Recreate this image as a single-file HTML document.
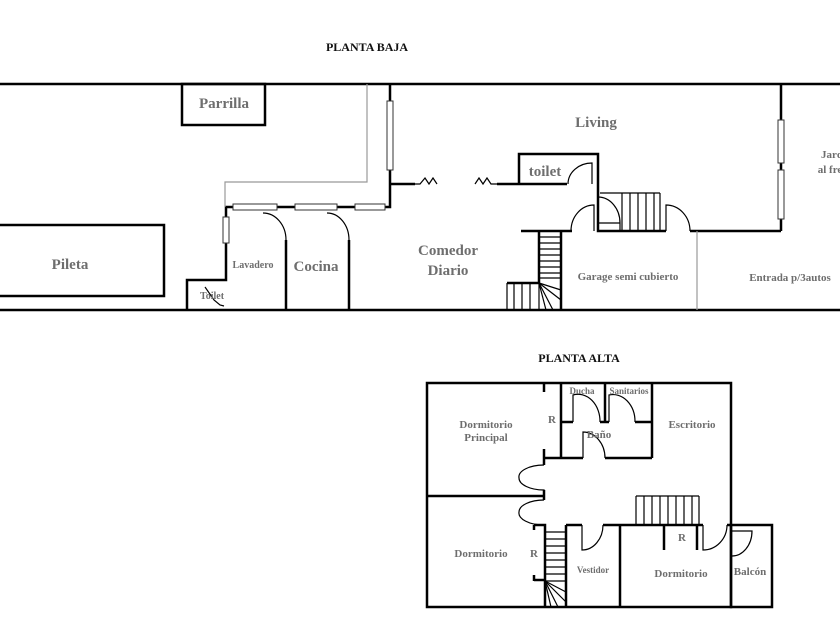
<!DOCTYPE html>
<html><head><meta charset="utf-8"><style>
html,body{margin:0;padding:0;background:#fff;width:840px;height:630px;overflow:hidden}
svg{display:block}
text{font-family:"Liberation Serif",serif;font-weight:bold;fill:#6e6e6e}
</style></head><body>
<svg width="840" height="630" viewBox="0 0 840 630" xmlns="http://www.w3.org/2000/svg">
<g fill="none" stroke="#000" stroke-width="2.5">
<line x1="0" y1="84" x2="840" y2="84"/>
<line x1="0" y1="310" x2="840" y2="310"/>
<rect x="-2" y="225" width="166" height="71"/>
<rect x="182" y="84" width="83" height="41"/>
<polyline points="187,310 187,280 226,280 226,207 390,207 390,84"/>
<line x1="286" y1="240" x2="286" y2="310"/>
<line x1="349" y1="240" x2="349" y2="310"/>
<line x1="390" y1="184" x2="415" y2="184"/>
<line x1="497" y1="184" x2="567" y2="184"/>
<polyline points="519,184 519,154 598,154 598,231 666,231"/>
<line x1="521" y1="231" x2="572" y2="231"/>
<polyline points="539,231 539,283 507,283"/>
<line x1="561" y1="231" x2="561" y2="310"/>
<line x1="690" y1="231" x2="781" y2="231"/>
<line x1="781" y1="84" x2="781" y2="231"/>
<rect x="427" y="383" width="304" height="224"/>
<rect x="731" y="525" width="41" height="82"/>
<line x1="427" y1="496" x2="544" y2="496"/>
<line x1="544" y1="383" x2="544" y2="392"/>
<line x1="544" y1="449" x2="544" y2="465"/>
<line x1="544" y1="490" x2="544" y2="500"/>
<line x1="561" y1="383" x2="561" y2="458"/>
<line x1="544" y1="458" x2="583" y2="458"/>
<line x1="605" y1="458" x2="652" y2="458"/>
<line x1="652" y1="383" x2="652" y2="458"/>
<line x1="605" y1="383" x2="605" y2="422"/>
<line x1="561" y1="422" x2="573" y2="422"/>
<line x1="600" y1="422" x2="609" y2="422"/>
<line x1="635" y1="422" x2="652" y2="422"/>
<polyline points="534,525 545,525 545,607"/>
<line x1="534" y1="525" x2="534" y2="530"/>
<line x1="534" y1="580" x2="545" y2="580"/>
<line x1="534" y1="575" x2="534" y2="581"/>
<line x1="566" y1="525" x2="566" y2="607"/>
<line x1="566" y1="525" x2="582" y2="525"/>
<line x1="603" y1="525" x2="703" y2="525"/>
<line x1="727" y1="525" x2="731" y2="525"/>
<line x1="620" y1="525" x2="620" y2="607"/>
<line x1="664" y1="525" x2="664" y2="550"/>
<line x1="697" y1="525" x2="697" y2="550"/>
</g>
<g fill="none" stroke="#000" stroke-width="1.2">
<path d="M263,213 A23,27 0 0 1 286,240"/>
<path d="M327,213 A22,27 0 0 1 349,240"/>
<path d="M568,184 A24,21 0 0 1 592,163 L592,184"/>
<path d="M571,231 A23,26 0 0 1 594,205 L594,231"/>
<path d="M598,197 A22,26 0 0 1 620,223 L620,231 M598,223 L620,223"/>
<path d="M666,231 L666,205 A24,26 0 0 1 690,231"/>
<path d="M205,287 L214,300 L220,305 L224,306"/>
<line x1="600" y1="193" x2="660" y2="193"/>
<line x1="622" y1="193" x2="622" y2="231"/>
<line x1="630" y1="193" x2="630" y2="231"/>
<line x1="638" y1="193" x2="638" y2="231"/>
<line x1="646" y1="193" x2="646" y2="231"/>
<line x1="654" y1="193" x2="654" y2="231"/>
<line x1="660" y1="193" x2="660" y2="231"/>
<line x1="539" y1="237" x2="561" y2="237"/><line x1="539" y1="243" x2="561" y2="243"/>
<line x1="539" y1="249" x2="561" y2="249"/><line x1="539" y1="255" x2="561" y2="255"/>
<line x1="539" y1="261" x2="561" y2="261"/><line x1="539" y1="267" x2="561" y2="267"/>
<line x1="539" y1="273" x2="561" y2="273"/><line x1="539" y1="278" x2="561" y2="278"/>
<line x1="507" y1="283" x2="507" y2="310"/><line x1="514" y1="283" x2="514" y2="310"/>
<line x1="522" y1="283" x2="522" y2="310"/><line x1="530" y1="283" x2="530" y2="310"/>
<line x1="539" y1="283" x2="539" y2="310"/>
<line x1="539" y1="283" x2="561" y2="290"/><line x1="539" y1="283" x2="561" y2="300"/>
<line x1="539" y1="283" x2="553" y2="310"/><line x1="539" y1="283" x2="546" y2="310"/>
<polyline points="415,184 420,184 425,178 429,184 433,178 437,184"/>
<polyline points="475,184 479,178 483,184 487,178 491,184 497,184"/>
<path d="M544,465 A25,12 0 0 0 519,478 A25,12 0 0 0 544,490 L544,496 L522,496"/>
<path d="M544,500 A25,12 0 0 0 519,512 A25,12 0 0 0 544,525"/>
<path d="M573,422 L573,395 A22,27 0 0 1 600,422"/>
<path d="M609,422 L609,395 A22,27 0 0 1 635,422"/>
<path d="M583,458 L583,432 A22,26 0 0 1 605,458"/>
<path d="M582,525 L582,550 A21,25 0 0 0 603,525"/>
<path d="M703,525 L703,550 A24,25 0 0 0 727,525"/>
<path d="M731,531 L752,531 A20,25 0 0 1 731,556"/>
<line x1="636" y1="496" x2="699" y2="496"/>
<line x1="636" y1="496" x2="636" y2="525"/><line x1="644" y1="496" x2="644" y2="525"/>
<line x1="652" y1="496" x2="652" y2="525"/><line x1="660" y1="496" x2="660" y2="525"/>
<line x1="668" y1="496" x2="668" y2="525"/><line x1="676" y1="496" x2="676" y2="525"/>
<line x1="684" y1="496" x2="684" y2="525"/><line x1="692" y1="496" x2="692" y2="525"/>
<line x1="699" y1="496" x2="699" y2="525"/>
<line x1="545" y1="532" x2="566" y2="532"/><line x1="545" y1="539" x2="566" y2="539"/>
<line x1="545" y1="546" x2="566" y2="546"/><line x1="545" y1="553" x2="566" y2="553"/>
<line x1="545" y1="560" x2="566" y2="560"/><line x1="545" y1="567" x2="566" y2="567"/>
<line x1="545" y1="574" x2="566" y2="574"/><line x1="545" y1="581" x2="566" y2="581"/>
<line x1="545" y1="581" x2="566" y2="592"/><line x1="545" y1="581" x2="566" y2="602"/>
<line x1="545" y1="581" x2="558" y2="607"/><line x1="545" y1="581" x2="551" y2="607"/>
</g>
<g fill="none" stroke="#999" stroke-width="1.2">
<polyline points="367,84 367,182 225,182 225,207"/>
<line x1="697" y1="231" x2="697" y2="310"/>
</g>
<g fill="#fff" stroke="#333" stroke-width="1">
<rect x="387" y="101" width="6" height="69"/>
<rect x="233" y="204" width="44" height="6"/>
<rect x="295" y="204" width="42" height="6"/>
<rect x="355" y="204" width="30" height="6"/>
<rect x="223" y="217" width="6" height="26"/>
<rect x="778" y="120" width="6" height="43"/>
<rect x="778" y="170" width="6" height="49"/>
</g>
<text x="367" y="51" font-size="12" text-anchor="middle" style="fill:#111">PLANTA BAJA</text>
<text x="579" y="362" font-size="12" text-anchor="middle" style="fill:#111">PLANTA ALTA</text>
<g text-anchor="middle">
<text x="224" y="108" font-size="15">Parrilla</text>
<text x="70" y="269" font-size="15">Pileta</text>
<text x="596" y="127" font-size="15">Living</text>
<text x="545" y="176" font-size="15">toilet</text>
<text x="448" y="255" font-size="15">Comedor</text>
<text x="448" y="275" font-size="15">Diario</text>
<text x="628" y="280" font-size="11">Garage semi cubierto</text>
<text x="790" y="281" font-size="11">Entrada p/3autos</text>
<text x="832" y="158" font-size="11">Jard</text>
<text x="830" y="173" font-size="11">al fre</text>
<text x="253" y="268" font-size="10">Lavadero</text>
<text x="316" y="271" font-size="15">Cocina</text>
<text x="212" y="299" font-size="10">Toilet</text>
<text x="486" y="428" font-size="11">Dormitorio</text>
<text x="486" y="441" font-size="11">Principal</text>
<text x="552" y="423" font-size="11">R</text>
<text x="582" y="394" font-size="9">Ducha</text>
<text x="629" y="394" font-size="9">Sanitarios</text>
<text x="599" y="438" font-size="11">Baño</text>
<text x="692" y="428" font-size="11">Escritorio</text>
<text x="481" y="557" font-size="11">Dormitorio</text>
<text x="534" y="557" font-size="11">R</text>
<text x="593" y="573" font-size="9">Vestidor</text>
<text x="681" y="577" font-size="11">Dormitorio</text>
<text x="682" y="541" font-size="11">R</text>
<text x="750" y="575" font-size="11">Balcón</text>
</g>
</svg>
</body></html>
